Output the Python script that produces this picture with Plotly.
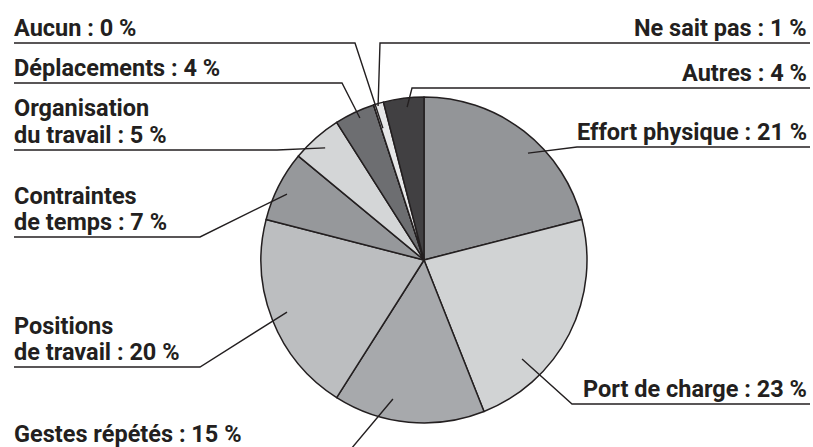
import math
import plotly.graph_objects as go

W, H = 813, 447

# data
labels = ["Effort physique", "Port de charge", "Gestes répétés", "Positions<br>de travail",
          "Contraintes<br>de temps", "Organisation<br>du travail", "Déplacements", "Aucun",
          "Ne sait pas", "Autres"]
values = [21, 23, 15, 20, 7, 5, 4, 0, 1, 4]
colors = ["#939598", "#d1d3d4", "#a7a9ac", "#bcbec0", "#96989b",
          "#d4d6d7", "#6d6e71", "#ffffff", "#e6e7e8", "#414042"]

# label placement (pixels): side, underline y, elbow x, angle offset (deg), radius fraction
label_side = ["right", "right", "left", "left", "left", "left", "left", "left", "right", "right"]
underline_y = [147, 404, 449, 367, 237, 150, 83, 43, 43, 88]
elbow_x = [577, 572, 351, 200, 200, 277, 342, 355, 380, 412]
angle_off = [6.4, 18.3, 7.2, 0.8, -1.3, 0, 0.9, 0.7, -0.4, 0.9]
rad_frac = [0.915, 0.855, 0.874, 0.899, 0.933, 0.917, 0.956, 0.847, 0.986, 0.944]

ink = "#231f20"
cx, cy, r = 424, 260, 163
left_x, right_x = 14, 810
font_size = 23.5
line_pitch = 26.5


def px(x):
    return x / W


def py(y):
    return 1 - y / H


fig = go.Figure(go.Pie(
    labels=labels,
    values=values,
    sort=False,
    direction="clockwise",
    rotation=0,
    textinfo="none",
    hoverinfo="label+value",
    marker=dict(colors=colors, line=dict(color=ink, width=1.5)),
    domain=dict(x=[(cx - r) / W, (cx + r) / W], y=[py(cy + r), py(cy - r)]),
    showlegend=False,
))

shapes = []
annotations = []
total = sum(values)
cum = 0
for i, v in enumerate(values):
    mid = (cum + v / 2) / total * 360
    cum += v
    a = math.radians(mid + angle_off[i])
    ax = cx + rad_frac[i] * r * math.sin(a)
    ay = cy - rad_frac[i] * r * math.cos(a)
    uy = underline_y[i]
    ex = elbow_x[i]
    if label_side[i] == "left":
        start, tx, xa = left_x, 13, "left"
    else:
        start, tx, xa = right_x, 808, "right"
    path = f"M {px(start)} {py(uy)} L {px(ex)} {py(uy)} L {px(ax)} {py(ay)}"
    shapes.append(dict(type="path", path=path, xref="paper", yref="paper",
                       line=dict(color=ink, width=1.4), layer="above"))
    lines = f"{labels[i]} : {v} %".split("<br>")
    for k, line in enumerate(lines):
        dy = (len(lines) - 1 - k) * line_pitch
        annotations.append(dict(
            x=px(tx), y=py(uy - dy), xref="paper", yref="paper",
            xanchor=xa, yanchor="bottom", align=xa, showarrow=False,
            text=line, borderpad=0,
            font=dict(family="Roboto", size=font_size, color=ink, weight=700),
        ))

fig.update_layout(
    width=W, height=H,
    margin=dict(l=0, r=0, t=0, b=0),
    paper_bgcolor="white",
    plot_bgcolor="white",
    shapes=shapes,
    annotations=annotations,
)

fig.write_html("out.html", config={"displayModeBar": False},
               post_script="document.body.style.margin='0';")
